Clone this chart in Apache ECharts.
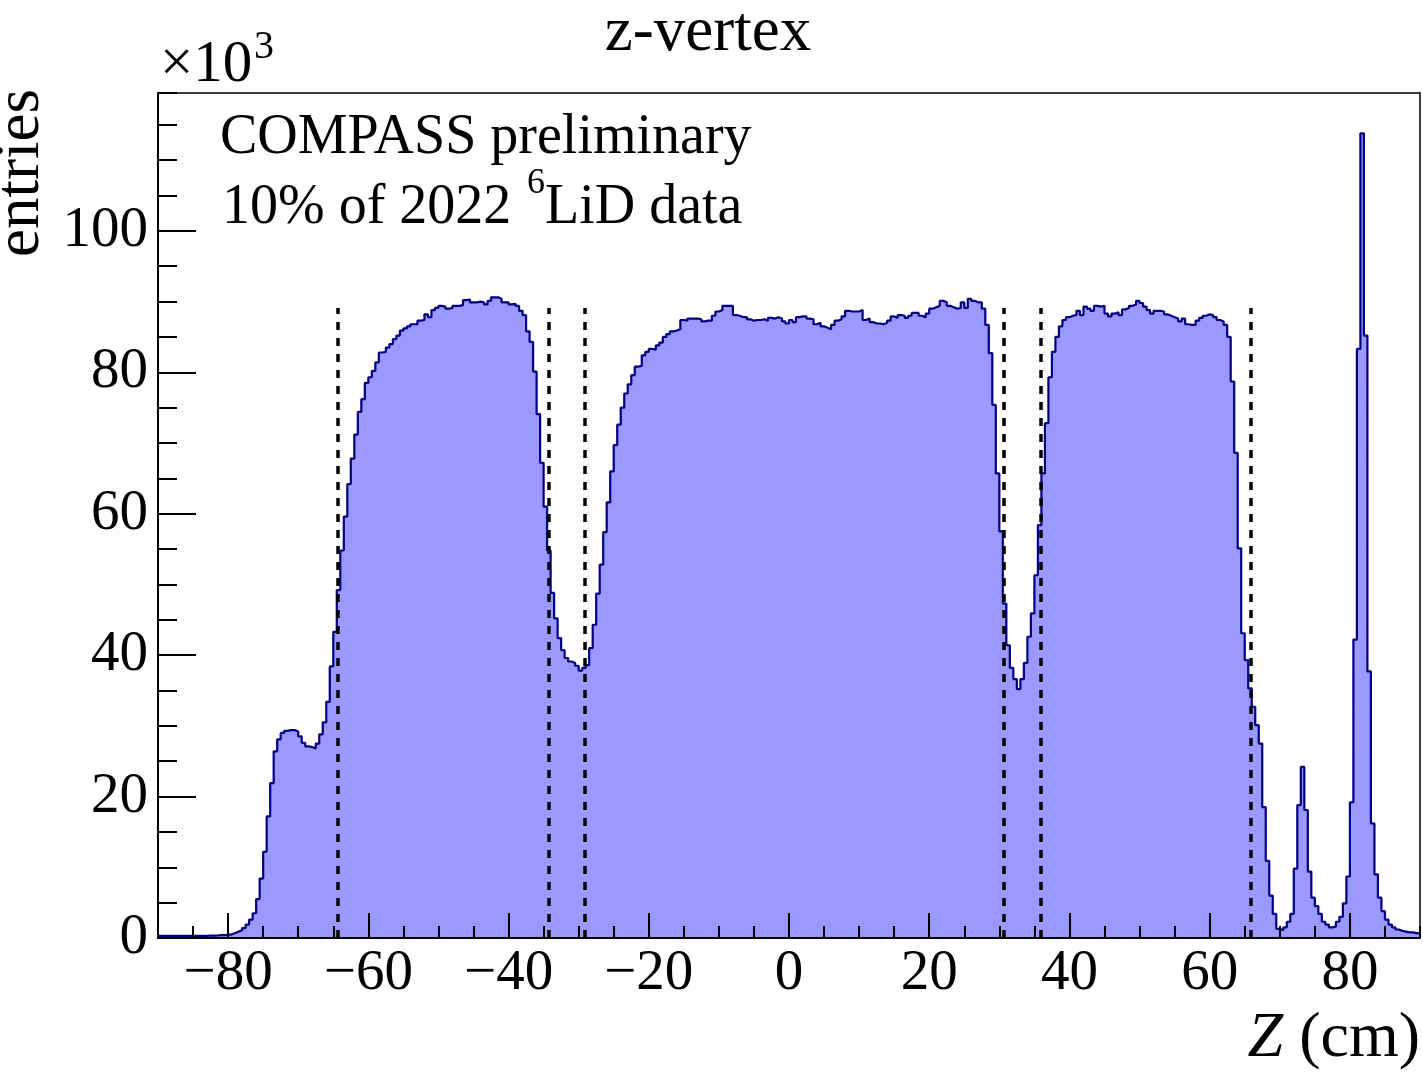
<!DOCTYPE html>
<html>
<head>
<meta charset="utf-8">
<script src="https://cdn.jsdelivr.net/npm/echarts@6/dist/echarts.min.js"></script>
<style>
html,body{margin:0;padding:0;background:#fff}
#chart{width:1423px;height:1075px}
</style>
</head>
<body>
<div id="chart"></div>
<script>
// bins of 0.5 cm from -90 cm, entries in units of 10^3
var binStart = -90;
var binWidth = 0.5;
var counts = [
  0.3,0.3,0.3,0.3,0.3,0.3,0.3,0.3,0.3,0.3,0.3,0.3,0.3,0.3,0.35,0.35,0.35,0.4,0.4,0.45,
  0.5,0.7,0.9,1.1,1.4,1.9,2.6,3.5,
  5.5,8.4,12.2,17.2,21.9,26.4,28.1,29.0,29.3,29.4,29.4,29.2,28.5,27.6,27.1,27.0,26.8,27.5,28.8,30.5,33.4,
  38.4,43.3,49.2,54.8,59.6,64.2,67.8,71.2,74.4,76.2,78.5,79.3,80.2,81.4,82.8,82.9,83.5,84.0,84.7,85.2,
  85.9,86.2,86.5,86.8,86.8,87.3,87.4,88.2,87.8,88.8,89.1,89.4,89.3,89.0,89.1,89.4,89.4,89.5,90.2,90.3,
  89.9,89.9,90.0,89.9,89.6,90.1,90.6,90.6,90.4,89.9,89.9,89.6,89.7,89.4,88.7,88.1,85.8,84.3,80.1,74.1,
  67.2,61.0,54.8,48.8,45.2,42.4,
  40.7,39.6,39.1,38.9,38.5,37.8,38.2,38.6,41.0,44.3,48.7,52.8,57.4,61.6,66.0,69.7,72.6,75.0,77.0,78.3,
  79.6,80.8,
  80.9,82.4,82.9,83.3,83.2,83.8,84.2,85.0,85.4,85.8,85.9,86.1,87.4,87.3,87.6,87.6,87.6,87.5,87.2,87.3,
  87.3,88.0,88.6,88.8,89.4,89.4,89.4,88.1,88.0,87.8,87.8,87.5,87.3,87.4,87.4,87.5,87.3,87.7,87.6,87.8,
  87.6,87.2,86.9,87.4,87.1,87.8,87.9,87.9,87.6,87.5,86.8,87.0,86.5,86.3,86.1,86.7,87.3,87.5,87.9,88.7,
  88.6,88.6,88.6,88.8,87.4,87.6,87.1,86.9,86.9,86.8,87.0,87.3,87.9,87.7,88.1,88.0,87.7,88.0,88.4,88.4,
  88.0,87.8,88.3,89.0,89.2,89.4,90.1,89.9,89.4,89.2,89.0,89.1,89.9,89.1,90.4,90.1,89.9,89.9,89.0,86.7,
  82.7,75.4,65.7,57.5,47.3,41.4,38.2,36.6,35.2,36.6,38.9,42.6,45.9,51.3,58.4,65.7,72.8,79.3,82.9,85.0,
  86.5,87.4,87.8,88.0,88.1,88.7,88.1,89.3,89.0,88.7,89.4,89.3,89.4,88.3,87.9,88.3,88.5,88.1,88.9,89.1,
  89.4,89.6,90.1,
  89.8,89.3,88.8,88.3,88.7,88.7,88.6,88.2,88.0,87.8,87.6,87.2,87.6,86.8,86.7,86.7,87.3,87.7,88.0,88.2,
  88.1,87.8,87.4,87.2,86.7,
  85.0,78.7,68.6,55.1,43.1,39.3,35.3,32.7,30.1,27.5,18.5,10.9,6.0,3.4,1.3,1.1,1.5,2.3,3.4,9.8,
  18.8,24.2,18.1,9.4,5.7,4.5,3.4,2.3,1.9,1.5,1.6,2.3,3.0,4.9,8.7,19.2,42.2,83.3,113.8,85.2,
  37.7,16.2,9.0,5.7,3.8,2.6,1.9,1.5,1.2,1.0,0.9,0.8,0.8,0.7,0.7
];
// target cut positions (cm) and height of the dotted lines
var cutPositions = [-64.3, -34.3, -29.2, 30.7, 35.9, 65.8];
var cutTop = 89.1;
var xMajorTicks = [-80, -60, -40, -20, 0, 20, 40, 60, 80];
var yMajorTicks = [0, 20, 40, 60, 80, 100];

var serif = 'Liberation Serif';

// histogram points at bin lower edges, plus the last upper edge
var histData = counts.map(function (v, i) { return [binStart + i * binWidth, v]; });
histData.push([binStart + counts.length * binWidth, counts[counts.length - 1]]);

function majorLabel(v) {
  if (Math.abs(v % 20) > 1e-6) return '';
  return String(Math.round(v)).replace('-', '\u2212');
}

var chart = echarts.init(document.getElementById('chart'));
chart.setOption({
  animation: false,
  backgroundColor: '#fff',
  grid: { left: 158, top: 93, width: 1263, height: 845 },
  xAxis: [{
    type: 'value', min: -90, max: 90, interval: 5, z: 5,
    axisLine: { onZero: false, lineStyle: { color: '#000', width: 2 } },
    axisTick: { inside: true, length: 12, lineStyle: { color: '#000', width: 2 } },
    axisLabel: { formatter: majorLabel, color: '#000', fontFamily: serif, fontSize: 57, margin: 8 },
    splitLine: { show: false }
  }, {
    type: 'value', min: -90, max: 90, position: 'bottom', z: 5,
    axisLine: { show: false, onZero: false },
    axisTick: { inside: true, length: 25, customValues: xMajorTicks, lineStyle: { color: '#000', width: 2 } },
    axisLabel: { show: false },
    splitLine: { show: false }
  }, {
    type: 'value', min: -90, max: 90, position: 'top', z: 5,
    axisLine: { onZero: false, lineStyle: { color: '#000', width: 1.5 } },
    axisTick: { show: false }, axisLabel: { show: false }, splitLine: { show: false }
  }],
  yAxis: [{
    type: 'value', min: 0, max: 119.5, interval: 5, z: 5,
    axisLine: { show: true, onZero: false, lineStyle: { color: '#000', width: 2 } },
    axisTick: { show: true, inside: true, length: 19, lineStyle: { color: '#000', width: 2 } },
    axisLabel: { formatter: majorLabel, color: '#000', fontFamily: serif, fontSize: 57, margin: 10 },
    splitLine: { show: false }
  }, {
    type: 'value', min: 0, max: 119.5, position: 'left', z: 5,
    axisLine: { show: false, onZero: false },
    axisTick: { show: true, inside: true, length: 38, customValues: yMajorTicks, lineStyle: { color: '#000', width: 2 } },
    axisLabel: { show: false },
    splitLine: { show: false }
  }, {
    type: 'value', min: 0, max: 119.5, position: 'right', z: 5,
    axisLine: { show: true, onZero: false, lineStyle: { color: '#000', width: 1.5 } },
    axisTick: { show: false }, axisLabel: { show: false }, splitLine: { show: false }
  }],
  series: [{
    type: 'line',
    step: 'end',
    xAxisIndex: 0,
    yAxisIndex: 0,
    data: histData,
    showSymbol: false,
    clip: true,
    lineStyle: { color: '#000080', width: 2.2 },
    areaStyle: { color: '#9999ff', opacity: 1 },
    markLine: {
      silent: true,
      symbol: 'none',
      label: { show: false },
      lineStyle: { color: '#000', width: 3.5, type: [8, 8] },
      data: cutPositions.map(function (x) {
        return [{ coord: [x, 0] }, { coord: [x, cutTop] }];
      })
    }
  }],
  graphic: [
    { type: 'text', x: 708, y: 33, style: { text: 'z-vertex', fontFamily: serif, fontSize: 63, fill: '#000', align: 'center', verticalAlign: 'middle' } },
    { type: 'text', x: 160, y: 65, style: { text: '\u00d710', fontFamily: serif, fontSize: 59, fill: '#000', align: 'left', verticalAlign: 'middle' } },
    { type: 'text', x: 254, y: 47, style: { text: '3', fontFamily: serif, fontSize: 40, fill: '#000', align: 'left', verticalAlign: 'middle' } },
    { type: 'text', x: 21, y: 173, rotation: Math.PI / 2, style: { text: 'entries', fontFamily: serif, fontSize: 63, fill: '#000', align: 'center', verticalAlign: 'middle' } },
    { type: 'text', x: 220, y: 138, style: { text: 'COMPASS preliminary', fontFamily: serif, fontSize: 56, fill: '#000', align: 'left', verticalAlign: 'middle' } },
    { type: 'text', x: 222, y: 208, style: { text: '10% of 2022', fontFamily: serif, fontSize: 56, fill: '#000', align: 'left', verticalAlign: 'middle' } },
    { type: 'text', x: 527, y: 184, style: { text: '6', fontFamily: serif, fontSize: 36, fill: '#000', align: 'left', verticalAlign: 'middle' } },
    { type: 'text', x: 545, y: 208, style: { text: 'LiD data', fontFamily: serif, fontSize: 56, fill: '#000', align: 'left', verticalAlign: 'middle' } },
    { type: 'text', x: 1420, y: 1039, style: { text: '{i|Z} (cm)', fontFamily: serif, fontSize: 64, fill: '#000', align: 'right', verticalAlign: 'middle',
      rich: { i: { fontStyle: 'italic', fontFamily: serif, fontSize: 64, fill: '#000' } } } }
  ]
});
</script>
</body>
</html>
